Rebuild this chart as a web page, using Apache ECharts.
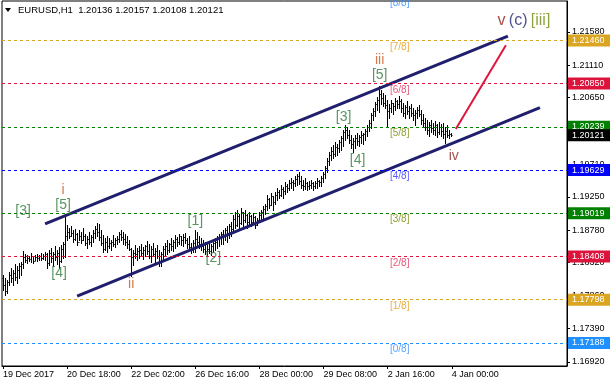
<!DOCTYPE html>
<html><head><meta charset="utf-8">
<script src="https://cdn.jsdelivr.net/npm/echarts@6/dist/echarts.min.js"></script>
<style>html,body{margin:0;padding:0;background:#fff}#c{width:610px;height:386px}</style>
</head><body><div id="c"></div>
<script>
const titleText = 'EURUSD,H1  1.20136 1.20157 1.20108 1.20121';
const opens = [1.1810,1.1800,1.1792,1.1805,1.1814,1.1810,1.1818,1.1812,1.1822,1.1828,
1.1830,1.1840,1.1836,1.1839,1.1837,1.1841,1.1835,1.1840,1.1838,1.1841,
1.1839,1.1842,1.1844,1.1832,1.1846,1.1838,1.1844,1.1840,1.1846,1.1835,
1.1852,1.1858,1.1870,1.1875,1.1870,1.1874,1.1866,1.1872,1.1862,1.1870,
1.1864,1.1870,1.1860,1.1866,1.1862,1.1868,1.1874,1.1880,1.1876,1.1868,
1.1860,1.1852,1.1862,1.1856,1.1860,1.1862,1.1858,1.1864,1.1866,1.1872,
1.1868,1.1866,1.1862,1.1858,1.1852,1.1840,1.1846,1.1844,1.1848,1.1850,
1.1846,1.1850,1.1855,1.1848,1.1842,1.1852,1.1844,1.1848,1.1842,1.1835,
1.1844,1.1852,1.1856,1.1850,1.1858,1.1855,1.1862,1.1866,1.1862,1.1870,
1.1864,1.1868,1.1864,1.1858,1.1854,1.1850,1.1860,1.1865,1.1862,1.1858,
1.1856,1.1852,1.1849,1.1852,1.1848,1.1855,1.1860,1.1862,1.1866,1.1868,
1.1872,1.1870,1.1878,1.1874,1.1884,1.1880,1.1894,1.1886,1.1898,1.1888,
1.1904,1.1892,1.1900,1.1890,1.1898,1.1890,1.1896,1.1886,1.1892,1.1900,
1.1904,1.1908,1.1912,1.1922,1.1914,1.1926,1.1918,1.1928,1.1932,1.1928,
1.1936,1.1934,1.1940,1.1938,1.1944,1.1946,1.1944,1.1950,1.1954,1.1948,
1.1942,1.1940,1.1944,1.1940,1.1942,1.1944,1.1941,1.1945,1.1948,1.1946,
1.1952,1.1958,1.1966,1.1976,1.1984,1.1990,1.1986,1.1996,1.1994,1.2002,
1.2008,1.2016,1.2020,1.2012,1.2006,1.2000,1.2004,1.2008,1.2004,1.2010,
1.2012,1.2014,1.2018,1.2024,1.2030,1.2040,1.2046,1.2056,1.2062,1.2070,
1.2064,1.2058,1.2055,1.2046,1.2050,1.2058,1.2054,1.2060,1.2056,1.2060,
1.2050,1.2044,1.2052,1.2046,1.2050,1.2044,1.2040,1.2044,1.2048,1.2042,
1.2034,1.2030,1.2024,1.2020,1.2026,1.2022,1.2020,1.2026,1.2016,1.2024,
1.2018,1.2014,1.2018,1.2012,1.20136];
const highs = [1.1815,1.1810,1.1808,1.1819,1.1825,1.1822,1.1830,1.1827,1.1832,1.1833,
1.1849,1.1844,1.1843,1.1841,1.1846,1.1841,1.1843,1.1844,1.1843,1.1846,
1.1844,1.1847,1.1846,1.1850,1.1853,1.1847,1.1856,1.1850,1.1854,1.1857,
1.1861,1.1899,1.1885,1.1881,1.1884,1.1878,1.1880,1.1874,1.1878,1.1875,
1.1881,1.1873,1.1870,1.1875,1.1871,1.1878,1.1884,1.1888,1.1887,1.1878,
1.1871,1.1867,1.1870,1.1867,1.1864,1.1871,1.1867,1.1870,1.1875,1.1878,
1.1875,1.1873,1.1870,1.1864,1.1853,1.1850,1.1857,1.1853,1.1856,1.1858,
1.1854,1.1857,1.1863,1.1858,1.1856,1.1860,1.1853,1.1857,1.1850,1.1847,
1.1856,1.1860,1.1864,1.1860,1.1867,1.1864,1.1871,1.1868,1.1873,1.1870,
1.1873,1.1874,1.1867,1.1870,1.1860,1.1864,1.1878,1.1875,1.1870,1.1867,
1.1864,1.1861,1.1858,1.1861,1.1858,1.1864,1.1867,1.1870,1.1873,1.1875,
1.1878,1.1881,1.1884,1.1887,1.1890,1.1899,1.1904,1.1907,1.1901,1.1909,
1.1904,1.1907,1.1901,1.1904,1.1899,1.1902,1.1898,1.1895,1.1904,1.1907,
1.1912,1.1915,1.1928,1.1923,1.1931,1.1926,1.1932,1.1938,1.1935,1.1942,
1.1939,1.1946,1.1943,1.1949,1.1952,1.1949,1.1955,1.1957,1.1960,1.1955,
1.1949,1.1952,1.1946,1.1947,1.1949,1.1946,1.1947,1.1952,1.1949,1.1955,
1.1960,1.1969,1.1980,1.1988,1.1995,1.1998,1.2002,1.2000,1.2005,1.2011,
1.2019,1.2027,1.2024,1.2019,1.2012,1.2008,1.2012,1.2015,1.2012,1.2018,
1.2015,1.2021,1.2027,1.2034,1.2043,1.2051,1.2059,1.2066,1.2082,1.2076,
1.2072,1.2069,1.2062,1.2056,1.2062,1.2058,1.2065,1.2062,1.2067,1.2063,
1.2058,1.2055,1.2060,1.2053,1.2056,1.2051,1.2048,1.2052,1.2055,1.2048,
1.2042,1.2036,1.2034,1.2031,1.2034,1.2029,1.2032,1.2028,1.2031,1.2028,
1.2029,1.2024,1.2027,1.2019,1.20157];
const lows = [1.1794,1.1786,1.1789,1.1801,1.1805,1.1801,1.1808,1.1803,1.1810,1.1815,
1.1825,1.1833,1.1832,1.1835,1.1833,1.1832,1.1836,1.1835,1.1836,1.1836,
1.1837,1.1836,1.1825,1.1829,1.1833,1.1827,1.1836,1.1830,1.1825,1.1833,
1.1839,1.1840,1.1864,1.1867,1.1870,1.1861,1.1864,1.1857,1.1864,1.1860,
1.1864,1.1857,1.1853,1.1858,1.1856,1.1861,1.1867,1.1870,1.1864,1.1857,
1.1847,1.1850,1.1847,1.1853,1.1850,1.1856,1.1854,1.1858,1.1861,1.1864,
1.1858,1.1857,1.1853,1.1850,1.1813,1.1829,1.1839,1.1836,1.1839,1.1841,
1.1837,1.1841,1.1844,1.1839,1.1833,1.1841,1.1833,1.1839,1.1827,1.1827,
1.1836,1.1841,1.1844,1.1847,1.1850,1.1849,1.1853,1.1856,1.1858,1.1857,
1.1856,1.1860,1.1853,1.1850,1.1846,1.1847,1.1847,1.1856,1.1853,1.1850,
1.1847,1.1844,1.1843,1.1846,1.1843,1.1847,1.1850,1.1853,1.1856,1.1858,
1.1858,1.1864,1.1861,1.1867,1.1870,1.1875,1.1881,1.1884,1.1881,1.1887,
1.1884,1.1890,1.1881,1.1887,1.1884,1.1887,1.1881,1.1885,1.1890,1.1892,
1.1895,1.1901,1.1907,1.1909,1.1914,1.1907,1.1915,1.1921,1.1923,1.1926,
1.1923,1.1929,1.1932,1.1935,1.1938,1.1935,1.1940,1.1942,1.1943,1.1938,
1.1935,1.1936,1.1935,1.1936,1.1938,1.1935,1.1938,1.1938,1.1940,1.1940,
1.1946,1.1952,1.1960,1.1970,1.1977,1.1980,1.1983,1.1984,1.1988,1.1991,
1.1997,1.2005,1.2008,1.2001,1.1994,1.1988,1.1994,1.1998,1.1997,1.2001,
1.2000,1.2005,1.2011,1.2018,1.2022,1.2034,1.2039,1.2048,1.2045,1.2056,
1.2053,1.2051,1.2025,1.2036,1.2045,1.2042,1.2048,1.2051,1.2051,1.2045,
1.2039,1.2036,1.2042,1.2036,1.2039,1.2034,1.2027,1.2036,1.2039,1.2028,
1.2025,1.2019,1.2014,1.2011,1.2017,1.2014,1.2012,1.2010,1.2014,1.2011,
1.2008,1.2001,1.2010,1.2008,1.20108];
const closes = [1.1800,1.1792,1.1805,1.1814,1.1810,1.1818,1.1812,1.1822,1.1828,1.1830,
1.1840,1.1836,1.1839,1.1837,1.1841,1.1835,1.1840,1.1838,1.1841,1.1839,
1.1842,1.1844,1.1832,1.1846,1.1838,1.1844,1.1840,1.1846,1.1835,1.1852,
1.1858,1.1870,1.1875,1.1870,1.1874,1.1866,1.1872,1.1862,1.1870,1.1864,
1.1870,1.1860,1.1866,1.1862,1.1868,1.1874,1.1880,1.1876,1.1868,1.1860,
1.1852,1.1862,1.1856,1.1860,1.1862,1.1858,1.1864,1.1866,1.1872,1.1868,
1.1866,1.1862,1.1858,1.1852,1.1840,1.1846,1.1844,1.1848,1.1850,1.1846,
1.1850,1.1855,1.1848,1.1842,1.1852,1.1844,1.1848,1.1842,1.1835,1.1844,
1.1852,1.1856,1.1850,1.1858,1.1855,1.1862,1.1866,1.1862,1.1870,1.1864,
1.1868,1.1864,1.1858,1.1854,1.1850,1.1860,1.1865,1.1862,1.1858,1.1856,
1.1852,1.1849,1.1852,1.1848,1.1855,1.1860,1.1862,1.1866,1.1868,1.1872,
1.1870,1.1878,1.1874,1.1884,1.1880,1.1894,1.1886,1.1898,1.1888,1.1904,
1.1892,1.1900,1.1890,1.1898,1.1890,1.1896,1.1886,1.1892,1.1900,1.1904,
1.1908,1.1912,1.1922,1.1914,1.1926,1.1918,1.1928,1.1932,1.1928,1.1936,
1.1934,1.1940,1.1938,1.1944,1.1946,1.1944,1.1950,1.1954,1.1948,1.1942,
1.1940,1.1944,1.1940,1.1942,1.1944,1.1941,1.1945,1.1948,1.1946,1.1952,
1.1958,1.1966,1.1976,1.1984,1.1990,1.1986,1.1996,1.1994,1.2002,1.2008,
1.2016,1.2020,1.2012,1.2006,1.2000,1.2004,1.2008,1.2004,1.2010,1.2012,
1.2014,1.2018,1.2024,1.2030,1.2040,1.2046,1.2056,1.2062,1.2070,1.2064,
1.2058,1.2055,1.2046,1.2050,1.2058,1.2054,1.2060,1.2056,1.2060,1.2050,
1.2044,1.2052,1.2046,1.2050,1.2044,1.2040,1.2044,1.2048,1.2042,1.2034,
1.2030,1.2024,1.2020,1.2026,1.2022,1.2020,1.2026,1.2016,1.2024,1.2018,
1.2014,1.2018,1.2012,1.20136,1.20121];

const xTickLabels = ['19 Dec 2017','20 Dec 18:00','22 Dec 02:00','26 Dec 16:00','28 Dec 00:00','29 Dec 08:00','2 Jan 16:00','4 Jan 00:00'];
const barsPerTick = 32;
const totalSlots = 282;
const yTicks = [1.1692,1.1739,1.1786,1.1832,1.1878,1.1925,1.1971,1.2018,1.2065,1.2111,1.2158];
const murreyLevels = [1.17188,1.17798,1.18408,1.19019,1.19629,1.20239,1.20850,1.21460,1.22070];
const murreyNames = ['[0/8]','[1/8]','[2/8]','[3/8]','[4/8]','[5/8]','[6/8]','[7/8]','[8/8]'];
const murreyLabelIndex = 198;
const lastPrice = 1.20121;
const channelUpper = [[21,1.1887],[252,1.2152]];
const channelLower = [[37,1.1785],[268,1.2051]];
const projection = [[226,1.2021],[251,1.2139]];
const waveTexts  = ['[3]','[4]','[5]','i','ii','[1]','[2]','[3]','[4]','[5]','iii','iv'];
const waveIdx    = [10,28,30,30,64,96,105,170,177,188,188,225];
const wavePrices = [1.1905,1.1818,1.1914,1.1935,1.1802,1.1891,1.1839,1.2038,1.1977,1.2097,1.2118,1.1983];
const waveKinds  = ['g','g','g','r','r','g','g','g','g','g','r','m'];
const targetLabel = {i:260, p:1.2174};

// styles
const lineColors = ['#1e90ff','#daa520','#dc143c','#008000','#0000ff','#008000','#dc143c','#daa520','#1e90ff'];
const textColors = ['#2f8cff','#e59a10','#e02a58','#6f8a00','#3535ff','#6f8a00','#e02a58','#e59a10','#2f8cff'];
const kindStyle = {
  g:{color:'#2f7a3a', fontSize:14, textShadowColor:'rgba(225,185,0,0.9)', textShadowOffsetX:-1},
  r:{color:'#c45a1c', fontSize:14, textShadowColor:'rgba(120,60,160,0.5)', textShadowOffsetX:1},
  m:{color:'#8e2626', fontSize:14, textShadowColor:'rgba(120,60,160,0.4)', textShadowOffsetX:1}
};
const FONT = 'Liberation Sans, Arial, sans-serif';

const categories = [];
for (let i = 0; i < totalSlots; i++) categories.push(String(i));
const barData = opens.map((o, i) => [i, o, closes[i], lows[i], highs[i]]);
const isTick = (i) => i % barsPerTick === 0 && (i / barsPerTick) < xTickLabels.length;

const boxLabel = (txt, bg) => ({show: true, position: 'end', distance: 1, formatter: txt, color: '#fff',
  backgroundColor: bg, padding: [2, 8, 1, 4], fontSize: 9, fontFamily: FONT});
const markData = murreyLevels.slice(0, 8).map((v, k) => ({
  yAxis: v,
  lineStyle: {color: lineColors[k], type: [3, 3], width: 1},
  label: boxLabel(v.toFixed(5), lineColors[k])
}));
markData.push({
  yAxis: lastPrice, lineStyle: {color: 'rgba(0,0,0,0)', width: 1},
  label: boxLabel(lastPrice.toFixed(5), '#000')
});

const murreyLabelData = murreyLevels.map((v, k) => ({
  value: [murreyLabelIndex, v],
  label: {formatter: murreyNames[k], color: textColors[k]}
}));
const waveData = waveTexts.map((t, k) => ({
  value: [waveIdx[k], wavePrices[k]],
  label: Object.assign({formatter: t}, kindStyle[waveKinds[k]])
}));
waveData.push({
  value: [targetLabel.i, targetLabel.p],
  label: {formatter: '{a|v} {b|(c)} {d|[iii]}', rich: {
    a: {color: '#8e1a1a', fontSize: 16, fontFamily: FONT},
    b: {color: '#22236e', fontSize: 16, fontFamily: FONT},
    d: {color: '#6f8f10', fontSize: 16, fontFamily: FONT, textShadowColor: 'rgba(0,160,200,0.5)', textShadowOffsetX: 1}
  }}
});

const chart = echarts.init(document.getElementById('c'), null, {renderer: 'canvas'});
chart.setOption({
  animation: false,
  backgroundColor: '#fff',
  grid: {left: 2, right: 43, top: 1, bottom: 20, show: true, borderColor: '#000', borderWidth: 1},
  graphic: [
    {type: 'polygon', shape: {points: [[5, 8], [11, 8], [8, 12]]}, style: {fill: '#000'}},
    {type: 'text', left: 18, top: 5, style: {text: titleText, fill: '#000', font: '9.5px ' + FONT}}
  ],
  xAxis: {
    type: 'category', data: categories, boundaryGap: true,
    axisLine: {show: true, lineStyle: {color: '#000'}},
    axisTick: {show: true, alignWithLabel: true, interval: (i) => isTick(i), length: 3, lineStyle: {color: '#000'}},
    axisLabel: {interval: (i) => isTick(i), formatter: (v, i) => xTickLabels[i / barsPerTick],
                align: 'left', color: '#000', fontSize: 9, fontFamily: FONT, margin: 4},
    splitLine: {show: false}
  },
  yAxis: {
    type: 'value', position: 'right', min: 1.16862, max: 1.22016,
    splitLine: {show: false},
    axisLine: {show: true, lineStyle: {color: '#000'}},
    axisTick: {show: true, customValues: yTicks, length: 3, lineStyle: {color: '#000'}},
    axisLabel: {customValues: yTicks, formatter: (v) => v.toFixed(5), color: '#000', fontSize: 9, fontFamily: FONT, margin: 5}
  },
  series: [
    {
      type: 'custom', name: 'EURUSD', data: barData, encode: {x: 0, y: [1, 2, 3, 4]},
      renderItem: (params, api) => {
        const idx = api.value(0);
        const pO = api.coord([idx, api.value(1)]);
        const pC = api.coord([idx, api.value(2)]);
        const pL = api.coord([idx, api.value(3)]);
        const pH = api.coord([idx, api.value(4)]);
        const x = Math.round(pH[0] - 0.5) + 0.5;
        const yo = Math.round(pO[1]) + 0.5, yc = Math.round(pC[1]) + 0.5;
        return {type: 'group', children: [
          {type: 'line', shape: {x1: x, y1: Math.round(pH[1]), x2: x, y2: Math.round(pL[1]) + 1}, style: {stroke: '#000', lineWidth: 1}},
          {type: 'line', shape: {x1: x - 1, y1: yo, x2: x, y2: yo}, style: {stroke: '#000', lineWidth: 1}},
          {type: 'line', shape: {x1: x, y1: yc, x2: x + 1, y2: yc}, style: {stroke: '#000', lineWidth: 1}}
        ]};
      }
    },
    {
      type: 'line', data: channelUpper, symbol: 'none', silent: true,
      lineStyle: {color: '#1f1f6e', width: 3},
      markLine: {symbol: 'none', silent: true, animation: false, precision: 5, data: markData}
    },
    {type: 'line', data: channelLower, symbol: 'none', silent: true, lineStyle: {color: '#1f1f6e', width: 3}},
    {type: 'line', data: projection, symbol: 'none', silent: true, lineStyle: {color: '#e0143c', width: 2}},
    {
      type: 'scatter', data: murreyLabelData, symbolSize: 1, itemStyle: {color: 'rgba(0,0,0,0)'}, silent: true, clip: false, z: 5,
      label: {show: true, position: 'bottom', distance: 1, fontSize: 10, fontFamily: FONT}
    },
    {
      type: 'scatter', data: waveData, symbolSize: 1, itemStyle: {color: 'rgba(0,0,0,0)'}, silent: true, clip: false, z: 6,
      label: {show: true, position: 'inside', fontFamily: FONT}
    }
  ]
});
</script></body></html>
